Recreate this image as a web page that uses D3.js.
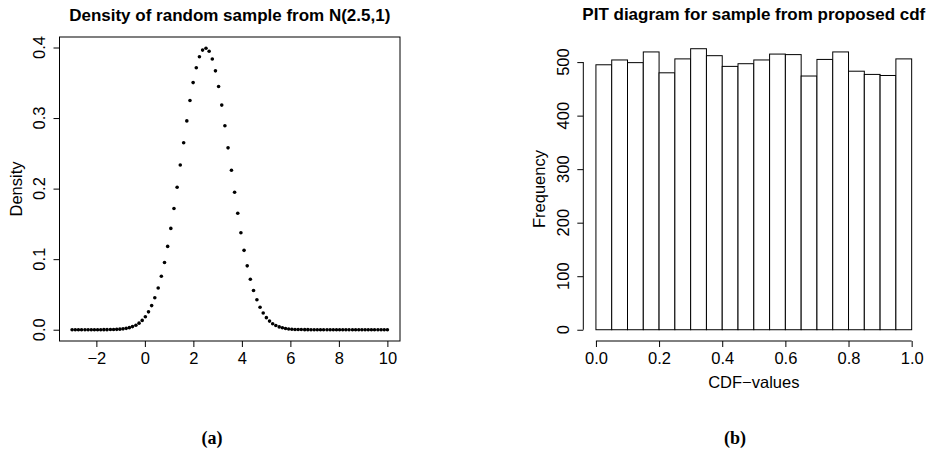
<!DOCTYPE html>
<html>
<head>
<meta charset="UTF-8">
<title></title>
<style>
  body { margin: 0; background: #fff; }
  text { font-family: "Liberation Sans", Arial, sans-serif; }
  text.caption { font-family: "Liberation Serif", "Times New Roman", serif; font-weight: bold; }
</style>
</head>
<body>
<script src="https://d3js.org/d3.v7.min.js"></script>
<script>
var width = 929, height = 454;

// panel (a): density points
var densX = [-3.00,-2.87,-2.74,-2.61,-2.47,-2.34,-2.21,-2.08,-1.95,-1.82,
  -1.69,-1.56,-1.42,-1.29,-1.16,-1.03,-0.90,-0.77,-0.64,-0.51,
  -0.37,-0.24,-0.11,0.02,0.15,0.28,0.41,0.55,0.68,0.81,
  0.94,1.07,1.20,1.33,1.46,1.60,1.73,1.86,1.99,2.12,
  2.25,2.38,2.52,2.65,2.78,2.91,3.04,3.17,3.30,3.43,
  3.57,3.70,3.83,3.96,4.09,4.22,4.35,4.48,4.62,4.75,
  4.88,5.01,5.14,5.27,5.40,5.54,5.67,5.80,5.93,6.06,
  6.19,6.32,6.45,6.59,6.72,6.85,6.98,7.11,7.24,7.37,
  7.51,7.64,7.77,7.90,8.03,8.16,8.29,8.42,8.56,8.69,
  8.82,8.95,9.08,9.21,9.34,9.47,9.61,9.74,9.87,10.00];
var densY = [0,0,0,0,0,0,0,0,0,0,
  0.0001,0.0001,0.0002,0.0003,0.0005,0.0008,0.0012,0.0019,0.0029,0.0044,
  0.0064,0.0093,0.0132,0.0184,0.0253,0.0342,0.0453,0.0591,0.0757,0.0953,
  0.1181,0.1436,0.1718,0.2020,0.2334,0.2651,0.2960,0.3248,0.3503,0.3713,
  0.3869,0.3963,0.3989,0.3947,0.3838,0.3669,0.3448,0.3184,0.2890,0.2578,
  0.2261,0.1949,0.1651,0.1375,0.1125,0.0905,0.0716,0.0556,0.0425,0.0319,
  0.0236,0.0171,0.0122,0.0085,0.0059,0.0040,0.0027,0.0017,0.0011,0.0007,
  0.0004,0.0003,0.0002,0.0001,0.0001,0,0,0,0,0,
  0,0,0,0,0,0,0,0,0,0,
  0,0,0,0,0,0,0,0,0,0];
var densXTicks = [-2, 0, 2, 4, 6, 8, 10];
var densYTicks = [0, 0.1, 0.2, 0.3, 0.4];

// panel (b): PIT histogram, 20 bins of width 0.05
var binEdges = [0,0.05,0.1,0.15,0.2,0.25,0.3,0.35,0.4,0.45,0.5,
  0.55,0.6,0.65,0.7,0.75,0.8,0.85,0.9,0.95,1];
var binCounts = [495,504,499,519,480,506,525,512,492,497,
  504,515,514,474,505,519,483,477,475,506];
var histXTicks = [0, 0.2, 0.4, 0.6, 0.8, 1.0];
var histYTicks = [0, 100, 200, 300, 400, 500];

var svg = d3.select("body").append("svg")
  .attr("width", width)
  .attr("height", height);

var fs = 16.5;

// ---------- panel (a) ----------
var ax = d3.scaleLinear().domain([-3.52, 10.52]).range([59.5, 400]);
var ay = d3.scaleLinear().domain([-0.016, 0.4149]).range([341, 37]);

var gA = svg.append("g");
gA.append("rect")
  .attr("x", ax.range()[0]).attr("y", ay.range()[1])
  .attr("width", ax.range()[1] - ax.range()[0])
  .attr("height", ay.range()[0] - ay.range()[1])
  .attr("fill", "none").attr("stroke", "#000").attr("stroke-width", 1);

gA.selectAll(".pt")
  .data(densX)
  .enter().append("circle")
  .attr("cx", function(d){ return ax(d); })
  .attr("cy", function(d, i){ return ay(densY[i]); })
  .attr("r", 1.8)
  .attr("fill", "#000");

var axA = gA.append("g")
  .attr("transform", "translate(0," + ay.range()[0] + ")")
  .call(d3.axisBottom(ax).tickValues(densXTicks).tickSize(6).tickSizeOuter(0));
axA.select(".domain").remove();
axA.selectAll("text").attr("font-size", fs).attr("dy", null).attr("y", 23);

var ayA = gA.append("g")
  .attr("transform", "translate(" + ax.range()[0] + ",0)")
  .call(d3.axisLeft(ay).tickValues(densYTicks).tickSize(6).tickSizeOuter(0));
ayA.select(".domain").remove();
ayA.selectAll("text").remove();
gA.selectAll(".ylab")
  .data(densYTicks)
  .enter().append("text")
  .attr("transform", function(d){ return "translate(45," + ay(d) + ") rotate(-90)"; })
  .attr("text-anchor", "middle")
  .attr("font-size", fs)
  .text(d3.format(".1f"));

gA.append("text")
  .attr("transform", "translate(22," + ((ay.range()[0] + ay.range()[1]) / 2) + ") rotate(-90)")
  .attr("text-anchor", "middle")
  .attr("font-size", fs)
  .text("Density");

gA.append("text")
  .attr("x", (ax.range()[0] + ax.range()[1]) / 2)
  .attr("y", 21)
  .attr("text-anchor", "middle")
  .attr("font-size", 17)
  .attr("font-weight", "bold")
  .text("Density of random sample from N(2.5,1)");

// ---------- panel (b) ----------
var bx = d3.scaleLinear().domain([-0.04, 1.04]).range([583.3, 924.3]);
var by = d3.scaleLinear().domain([-21.04, 546.9]).range([341, 37]);

var gB = svg.append("g");
gB.selectAll(".bar")
  .data(binCounts)
  .enter().append("rect")
  .attr("x", function(d, i){ return bx(binEdges[i]); })
  .attr("width", function(d, i){ return bx(binEdges[i + 1]) - bx(binEdges[i]); })
  .attr("y", function(d){ return by(d); })
  .attr("height", function(d){ return by(0) - by(d); })
  .attr("fill", "#fff")
  .attr("stroke", "#000")
  .attr("stroke-width", 1);

var axB = gB.append("g")
  .attr("transform", "translate(0," + by.range()[0] + ")")
  .call(d3.axisBottom(bx).tickValues(histXTicks).tickFormat(d3.format(".1f")).tickSize(6).tickSizeOuter(0));
axB.select(".domain").remove();
axB.selectAll("text").attr("font-size", fs).attr("dy", null).attr("y", 23);
axB.append("line")
  .attr("x1", bx(histXTicks[0])).attr("x2", bx(histXTicks[histXTicks.length - 1]))
  .attr("stroke", "#000");

var ayB = gB.append("g")
  .attr("transform", "translate(" + bx.range()[0] + ",0)")
  .call(d3.axisLeft(by).tickValues(histYTicks).tickSize(6).tickSizeOuter(0));
ayB.select(".domain").remove();
ayB.selectAll("text").remove();
ayB.append("line")
  .attr("y1", by(histYTicks[0])).attr("y2", by(histYTicks[histYTicks.length - 1]))
  .attr("stroke", "#000");
gB.selectAll(".ylab")
  .data(histYTicks)
  .enter().append("text")
  .attr("transform", function(d){ return "translate(569," + by(d) + ") rotate(-90)"; })
  .attr("text-anchor", "middle")
  .attr("font-size", fs)
  .text(function(d){ return d; });

gB.append("text")
  .attr("transform", "translate(545," + ((by.range()[0] + by.range()[1]) / 2) + ") rotate(-90)")
  .attr("text-anchor", "middle")
  .attr("font-size", fs)
  .text("Frequency");

gB.append("text")
  .attr("x", bx(0.5))
  .attr("y", 388)
  .attr("text-anchor", "middle")
  .attr("font-size", fs)
  .text("CDF\u2212values");

gB.append("text")
  .attr("x", (bx.range()[0] + bx.range()[1]) / 2)
  .attr("y", 20)
  .attr("text-anchor", "middle")
  .attr("font-size", 17)
  .attr("font-weight", "bold")
  .text("PIT diagram for sample from proposed cdf");

// captions
svg.append("text")
  .attr("class", "caption")
  .attr("x", 212).attr("y", 444)
  .attr("text-anchor", "middle")
  .attr("font-size", 18)
  .text("(a)");
svg.append("text")
  .attr("class", "caption")
  .attr("x", 735).attr("y", 444)
  .attr("text-anchor", "middle")
  .attr("font-size", 18)
  .text("(b)");
</script>
</body>
</html>
